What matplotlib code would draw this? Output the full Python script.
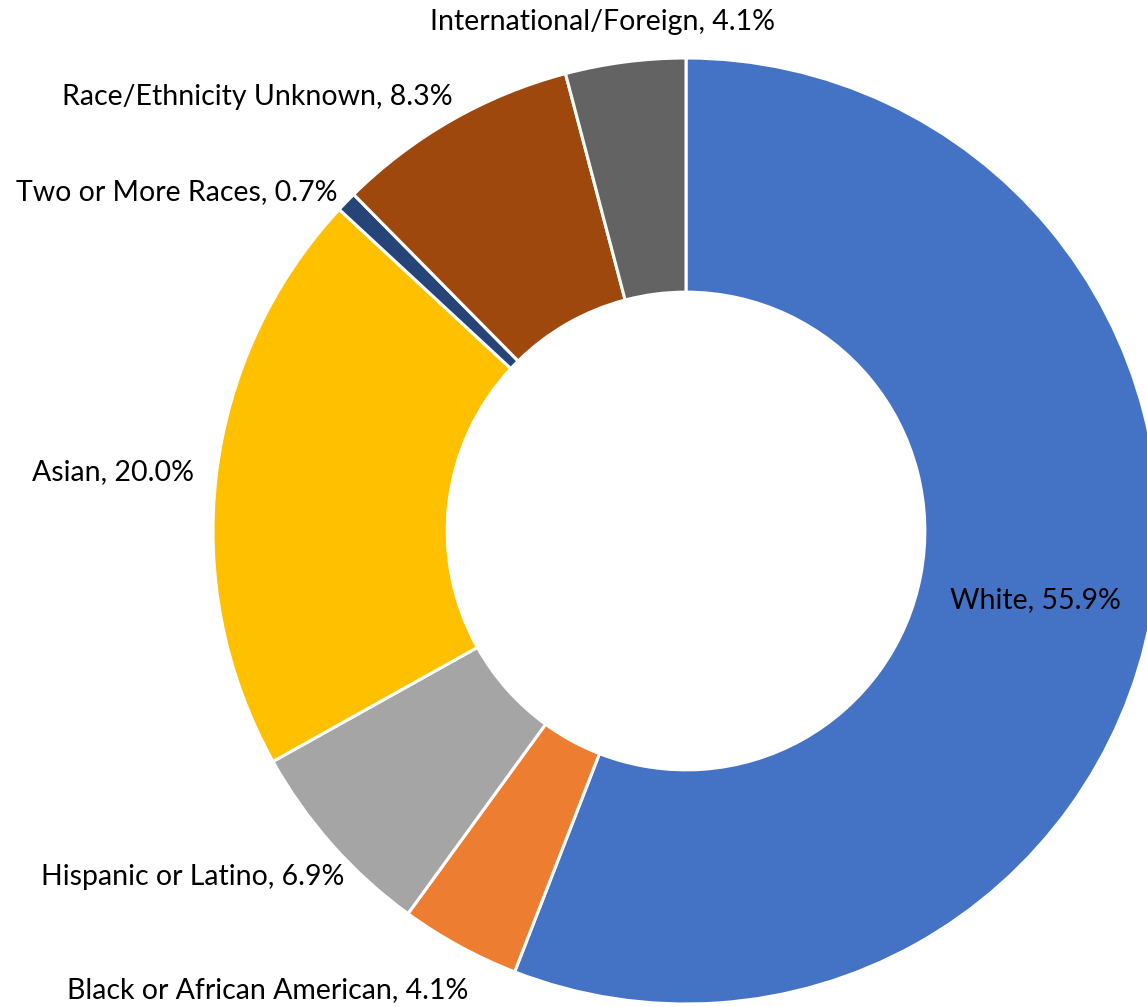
import matplotlib.pyplot as plt

categories = ["White", "Black or African American", "Hispanic or Latino", "Asian",
              "Two or More Races", "Race/Ethnicity Unknown", "International/Foreign"]
shares = [55.9, 4.1, 6.9, 20.0, 0.7, 8.3, 4.1]
colors = ["#4472C4", "#ED7D31", "#A5A5A5", "#FFC000", "#264478", "#9E480E", "#636363"]

# label anchor points in pixel space (x, y from top)
label_pos = [(1035, 600), (268, 990), (193, 877), (113, 472),
             (177, 192), (257, 97), (602, 22)]

W, H = 1147, 1007
fig = plt.figure(figsize=(W / 100, H / 100), dpi=100)
ax = fig.add_axes([0, 0, 1, 1])

cx, cy, r = 686, H - 531, 473
ax.pie(shares, colors=colors, startangle=90, counterclock=False,
       center=(cx, cy), radius=r, frame=True,
       wedgeprops=dict(width=r * 0.495, edgecolor="white", linewidth=2.2))
ax.set_xlim(0, W)
ax.set_ylim(0, H)
ax.set_aspect("equal")
ax.axis("off")

for name, val, (x, y) in zip(categories, shares, label_pos):
    ax.text(x, H - y, f"{name}, {val:.1f}%", ha="center", va="center",
            fontsize=20.5, family="Lato", color="black")

fig.savefig("out.png", dpi=100)
